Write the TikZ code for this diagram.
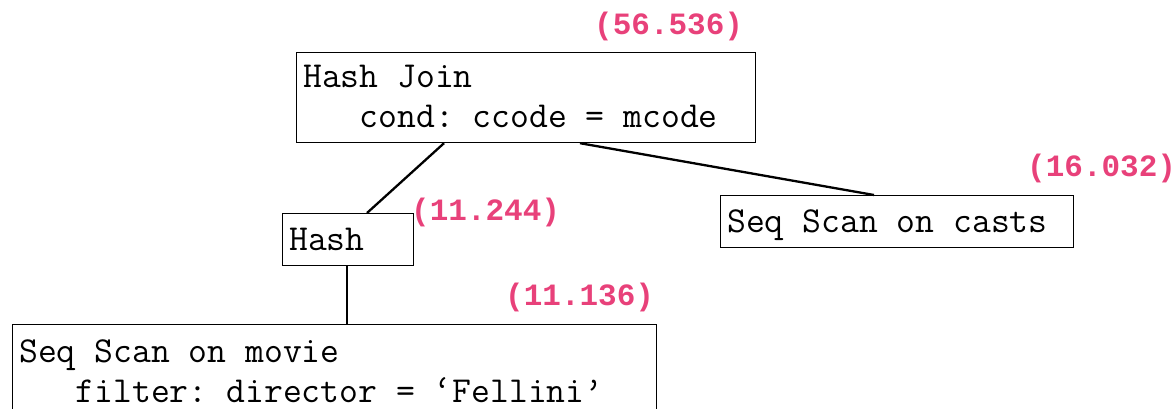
\documentclass[tikz,border=0pt]{standalone}
\usepackage{fontspec}
\newfontfamily\costfont{Liberation Mono}
\usetikzlibrary{calc}
\definecolor{costpink}{RGB}{232,65,122}
\frenchspacing
\tikzset{
  planbox/.style={draw=black, line width=1.2pt, rectangle, inner sep=0pt, anchor=north west},
  plantext/.style={anchor=base west, inner sep=0pt, font=\ttfamily\fontsize{36.6}{42}\selectfont},
  cost/.style={anchor=base west, inner sep=0pt, text=costpink, font=\costfont\bfseries\fontsize{31}{37}\selectfont},
  edge/.style={line width=2.3pt, black}
}
\begin{document}
\begin{tikzpicture}[x=1pt,y=-1pt]
\useasboundingbox (0,0) rectangle (1176,409);
\clip (0,0) rectangle (1176,409);
% boxes
\node[planbox, minimum width=459pt, minimum height=90pt] (hj) at (296,52) {};
\node[planbox, minimum width=131pt, minimum height=52pt] (hash) at (282,213) {};
\node[planbox, minimum width=353pt, minimum height=52pt] (casts) at (720,195) {};
\node[planbox, minimum width=644pt, minimum height=120pt] (movie) at (12,324) {};
% texts
\node[plantext] (hjt1) at (303,88) {Hash Join};
\node[plantext] (hjt2) at (303,128) {\hphantom{xxx}cond: ccode = mcode};
\node[plantext] (hasht) at (289,250) {Hash};
\node[plantext] (castst) at (727,233) {Seq Scan on casts};
\node[plantext] (moviet1) at (19,362) {Seq Scan on movie};
\node[plantext] (moviet2) at (19,402) {\hphantom{xxx}filter: director = ‘Fellini’};
% costs
\node[cost] (c1) at (594,35) {(56.536)};
\node[cost] (c2) at (411,220) {(11.244)};
\node[cost] (c3) at (1027,177) {(16.032)};
\node[cost] (c4) at (505,305) {(11.136)};
% connectors
\draw[edge] ($(hj.south west)+(148,0)$) -- ($(hash.north west)+(85,0)$);
\draw[edge] ($(hj.south west)+(284,0)$) -- ($(casts.north west)+(154,0)$);
\draw[edge] ($(hash.south west)+(65,0)$) -- ($(movie.north west)+(335,0)$);
\end{tikzpicture}
\end{document}
